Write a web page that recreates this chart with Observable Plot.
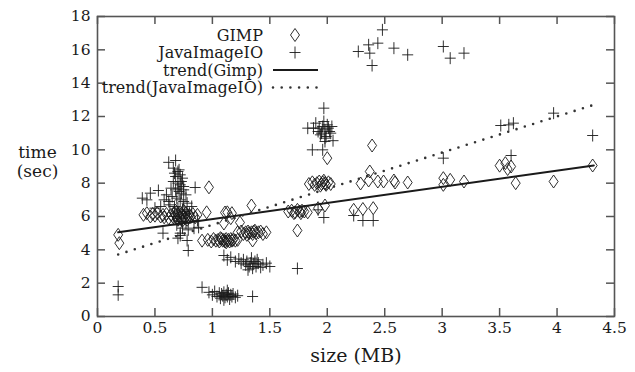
<!DOCTYPE html>
<html>
<head>
<meta charset="utf-8">
<script src="https://cdn.jsdelivr.net/npm/d3@7"></script>
<script src="https://cdn.jsdelivr.net/npm/@observablehq/plot@0.6"></script>
<style>
  html, body { margin: 0; padding: 0; background: #fff; }
  svg { display: block; }
</style>
</head>
<body>
<div id="chart"></div>
<script>
// ---- data ----
const gimpSize = [
  0.18, 0.19,
  0.40, 0.43, 0.46, 0.48, 0.50, 0.52, 0.55, 0.57, 0.60, 0.62, 0.58,
  0.64, 0.66, 0.67, 0.68, 0.69, 0.70, 0.71, 0.72, 0.73, 0.74, 0.75, 0.76, 0.77, 0.78, 0.79, 0.80, 0.81, 0.83, 0.85, 0.87, 0.70, 0.74, 0.78, 0.68, 0.75,
  0.95, 0.97,
  1.11, 1.13, 1.16, 1.17, 1.24, 1.34, 1.10,
  0.91, 0.96, 0.99, 1.01, 1.03, 1.05, 1.06, 1.08, 1.09, 1.10, 1.11, 1.12, 1.13, 1.14, 1.15, 1.16, 1.17, 1.18, 1.20, 1.22, 1.07, 1.12, 1.35,
  1.22, 1.25, 1.27, 1.29, 1.31, 1.32, 1.34, 1.35, 1.36, 1.38, 1.40, 1.42, 1.44, 1.47, 1.30, 1.37,
  1.66, 1.69, 1.72, 1.74, 1.76, 1.78, 1.80, 1.83, 1.71, 1.77, 1.74, 1.92, 1.98,
  1.84, 1.87, 1.89, 1.91, 1.93, 1.95, 1.96, 1.98, 1.99, 2.01, 2.03, 1.94, 1.97,
  2.00, 2.39,
  2.29, 2.36, 2.44, 2.49, 2.58, 2.37, 2.59, 2.70,
  2.23, 2.31, 2.40,
  3.01, 3.01, 3.07, 3.19,
  3.50, 3.55, 3.60, 3.57, 3.64, 3.97, 4.31
];
const gimpTime = [
  4.9, 4.4,
  6.1, 6.2, 6.0, 6.15, 6.05, 6.2, 6.0, 6.1, 6.15, 5.9, 5.95,
  6.1, 5.95, 6.2, 6.05, 5.9, 6.15, 6.0, 6.25, 5.85, 6.1, 6.0, 5.9, 6.2, 6.05, 5.95, 6.1, 6.0, 6.15, 5.95, 6.1, 5.8, 5.75, 5.8, 6.35, 6.35,
  6.25, 7.75,
  6.24, 6.25, 5.9, 6.2, 5.64, 6.66, 5.58,
  4.55, 4.6, 4.5, 4.65, 4.55, 4.6, 4.5, 4.65, 4.55, 4.6, 4.5, 4.65, 4.55, 4.6, 4.5, 4.65, 4.55, 4.6, 4.55, 4.6, 4.7, 4.45, 4.56,
  5.05, 5.1, 4.95, 5.05, 5.1, 5.0, 5.05, 4.95, 5.1, 5.0, 5.05, 5.1, 4.95, 5.05, 4.9, 5.15,
  6.3, 6.35, 6.25, 6.4, 6.3, 6.35, 6.3, 6.25, 6.2, 6.2, 5.16, 6.5, 6.66,
  7.95, 8.05, 7.9, 8.0, 8.1, 7.95, 8.05, 8.0, 7.9, 8.05, 7.95, 7.85, 8.15,
  9.5, 10.26,
  7.98, 8.16, 8.1, 8.1, 8.16, 8.7, 8.04, 8.04,
  6.4, 6.45, 6.5,
  8.3, 7.9, 8.2, 8.1,
  9.05, 9.2, 9.0, 8.85, 8.0, 8.1, 9.06
];
const jioSize = [
  0.18, 0.18,
  2.27, 2.36, 2.37, 2.39, 2.44, 2.48, 2.58, 2.70, 3.01, 3.07, 3.19,
  1.97, 1.90, 1.93, 1.95, 1.96, 1.98, 1.99, 2.00, 2.02, 1.94, 1.97, 2.01, 1.92, 1.98, 2.03, 1.88, 2.04, 1.83, 1.98, 2.05, 1.87, 1.96,
  0.68, 0.62, 0.66, 0.70, 0.72, 0.68, 0.74, 0.66, 0.70, 0.72, 0.75, 0.64, 0.68, 0.71, 0.73, 0.77, 0.65, 0.69, 0.72, 0.75, 0.78, 0.63, 0.67, 0.70, 0.74, 0.76, 0.80, 0.66, 0.71, 0.73, 0.77, 0.69, 0.74, 0.79, 0.72, 0.70, 0.73, 0.67, 0.71, 0.75, 0.62, 0.60,
  0.43, 0.46, 0.39, 0.53, 0.85, 0.78, 0.72, 0.79, 0.88, 0.57, 0.55, 0.50, 0.58, 0.82, 0.87, 0.84, 0.70,
  0.91, 0.97, 1.00, 1.02, 1.04, 1.06, 1.07, 1.08, 1.09, 1.10, 1.11, 1.12, 1.13, 1.14, 1.15, 1.16, 1.17, 1.18, 1.20, 1.22, 1.35, 1.10, 1.13,
  1.10, 1.13, 1.16, 1.20, 1.23, 1.25, 1.27, 1.29, 1.30, 1.32, 1.33, 1.34, 1.35, 1.36, 1.37, 1.38, 1.40, 1.42, 1.44, 1.47, 1.50, 1.31, 1.39,
  1.74,
  1.97, 1.92, 2.23, 2.31, 2.40,
  3.01, 3.60, 3.51, 3.62, 3.58, 3.97, 4.31
];
const jioTime = [
  1.8, 1.3,
  15.9, 16.3, 15.8, 15.06, 16.4, 17.2, 16.1, 15.7, 16.2, 15.5, 15.8,
  12.5, 11.6, 11.3, 11.0, 11.4, 11.2, 10.8, 11.5, 11.1, 10.9, 11.7, 11.3, 11.1, 10.5, 11.0, 11.3, 11.4, 11.3, 10.7, 10.55, 10.0, 10.0,
  9.36, 9.25, 8.9, 8.7, 8.5, 8.4, 8.3, 8.1, 8.0, 7.9, 7.8, 7.7, 7.6, 7.5, 7.4, 7.3, 7.2, 7.1, 7.0, 6.9, 6.8, 6.7, 6.6, 6.5, 6.4, 6.3, 6.2, 6.0, 5.9, 5.7, 5.6, 5.5, 5.3, 5.2, 5.0, 7.7, 8.1, 8.6, 8.8, 7.6, 6.9, 7.3,
  7.0, 7.4, 7.1, 7.56, 7.74, 4.56, 4.86, 3.96, 5.35, 5.0, 6.6, 6.5, 7.0, 6.6, 5.76, 5.3, 4.7,
  1.75, 1.45, 1.3, 1.5, 1.2, 1.4, 1.1, 1.35, 1.25, 1.45, 1.15, 1.3, 1.2, 1.4, 1.05, 1.3, 1.2, 1.35, 1.15, 1.25, 1.2, 1.0, 1.55,
  3.66, 3.4, 3.55, 3.3, 3.45, 3.2, 3.4, 3.1, 3.3, 3.0, 3.2, 3.5, 2.9, 3.15, 3.3, 3.0, 3.2, 2.95, 3.1, 3.2, 3.0, 2.8, 3.4,
  2.88,
  5.94, 6.4, 6.06, 5.76, 5.76,
  9.5, 9.66, 11.46, 11.6, 11.5, 12.2, 10.86
];
const trendSize = [0.18, 4.32];
const trendGimpTime = [5.05, 9.06];
const trendJioTime = [3.72, 12.7];
const xTicks = [0, 0.5, 1, 1.5, 2, 2.5, 3, 3.5, 4, 4.5];
const yTicks = [0, 2, 4, 6, 8, 10, 12, 14, 16, 18];
const legendLabels = ["GIMP", "JavaImageIO", "trend(Gimp)", "trend(JavaImageIO)"];
const xLabel = "size (MB)";
const yLabel = "time\n(sec)";

// ---- build tables ----
const gimp = gimpSize.map((x, i) => ({x, y: gimpTime[i]}));
const jio = jioSize.map((x, i) => ({x, y: jioTime[i]}));
const trendG = trendSize.map((x, i) => ({x, y: trendGimpTime[i]}));
const trendJ = trendSize.map((x, i) => ({x, y: trendJioTime[i]}));

const diamondSym = {draw(ctx) { ctx.moveTo(0, -6.5); ctx.lineTo(4.5, 0); ctx.lineTo(0, 6.5); ctx.lineTo(-4.5, 0); ctx.closePath(); }};
const plusSym = {draw(ctx) { ctx.moveTo(-5.5, 0); ctx.lineTo(5.5, 0); ctx.moveTo(0, -6); ctx.lineTo(0, 6); }};

const W = 635, H = 372;
const mL = 97, mR = 21, mT = 16, mB = 56;
const pw = W - mL - mR, ph = H - mT - mB;
const FONT = "'DejaVu Serif', serif";
const frameColor = "#555";
const ink = "#1a1a1a";

const chart = Plot.plot({
  width: W, height: H,
  marginLeft: mL, marginRight: mR, marginTop: mT, marginBottom: mB,
  style: {fontFamily: FONT, fontSize: "15.5px", color: ink, background: "#fff"},
  x: {domain: [0, 4.5]},
  y: {domain: [0, 18]},
  marks: [
    Plot.axisX({ticks: xTicks, tickSize: 0, tickPadding: 5, tickFormat: d => String(d), label: null, fontSize: 15.5, fontFamily: FONT}),
    Plot.axisY({ticks: yTicks, tickSize: 0, tickPadding: 7, tickFormat: d => String(d), label: null, fontSize: 15.5, fontFamily: FONT}),
    Plot.tickX(xTicks, {x: d => d, insetTop: ph - 8, stroke: frameColor, strokeWidth: 1.5}),
    Plot.tickX(xTicks, {x: d => d, insetBottom: ph - 8, stroke: frameColor, strokeWidth: 1.5}),
    Plot.tickY(yTicks, {y: d => d, insetRight: pw - 8, stroke: frameColor, strokeWidth: 1.5}),
    Plot.tickY(yTicks, {y: d => d, insetLeft: pw - 8, stroke: frameColor, strokeWidth: 1.5}),
    Plot.dot(gimp, {x: "x", y: "y", symbol: diamondSym, fill: "none", stroke: ink, strokeWidth: 0.9}),
    Plot.dot(jio, {x: "x", y: "y", symbol: plusSym, fill: "none", stroke: ink, strokeWidth: 0.9}),
    Plot.line(trendG, {x: "x", y: "y", stroke: ink, strokeWidth: 2}),
    Plot.line(trendJ, {x: "x", y: "y", stroke: "#333", strokeWidth: 2.6, strokeDasharray: "0,8.7", strokeLinecap: "round"}),
    Plot.frame({stroke: frameColor, strokeWidth: 1.6}),
    Plot.text([xLabel], {frameAnchor: "bottom", textAnchor: "middle", lineAnchor: "middle", dy: 39, fontSize: 19, fontFamily: FONT, fill: ink}),
    Plot.text([yLabel], {frameAnchor: "left", textAnchor: "middle", lineAnchor: "middle", dx: -60, dy: -5, fontSize: 17, fontFamily: FONT, fill: ink, lineHeight: 1.12})
  ]
});
document.getElementById("chart").appendChild(chart);

// ---- legend (inside the frame, gnuplot style) ----
const svg = d3.select(chart);
const lg = svg.append("g").attr("font-family", "DejaVu Serif, serif").attr("font-size", 16).attr("fill", ink);
const rowY = [35, 52.5, 70, 87.5];
const textEnd = 263, sx0 = 273, sx1 = 318, scx = 295;
legendLabels.forEach((t, i) => {
  lg.append("text").attr("x", textEnd).attr("y", rowY[i]).attr("text-anchor", "end")
    .attr("dy", "0.36em").text(t);
});
lg.append("path").attr("transform", `translate(${scx},${rowY[0]})`)
  .attr("d", d3.symbol(diamondSym)()).attr("fill", "none").attr("stroke", ink).attr("stroke-width", 0.9);
lg.append("path").attr("transform", `translate(${scx},${rowY[1]})`)
  .attr("d", d3.symbol(plusSym)()).attr("fill", "none").attr("stroke", ink).attr("stroke-width", 0.9);
lg.append("line").attr("x1", sx0).attr("x2", sx1).attr("y1", rowY[2]).attr("y2", rowY[2])
  .attr("stroke", ink).attr("stroke-width", 2);
lg.append("line").attr("x1", sx0).attr("x2", sx1 + 2).attr("y1", rowY[3]).attr("y2", rowY[3])
  .attr("stroke", "#333").attr("stroke-width", 2.6).attr("stroke-dasharray", "0,8.7").attr("stroke-linecap", "round");
</script>
</body>
</html>
